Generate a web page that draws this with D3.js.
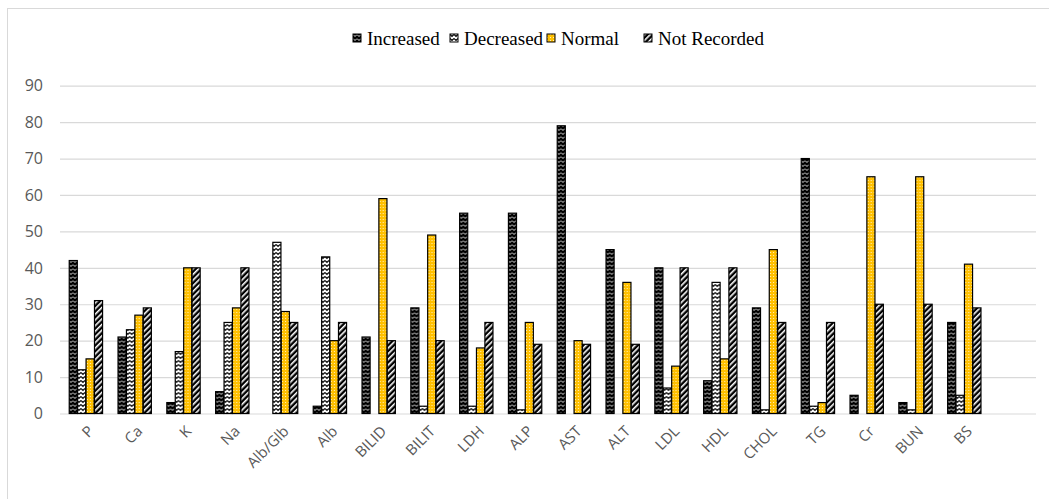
<!DOCTYPE html>
<html>
<head>
<meta charset="utf-8">
<script src="https://cdn.jsdelivr.net/npm/d3@7"></script>
<style>
  html, body { margin: 0; padding: 0; background: #fff; }
  svg { display: block; }
</style>
</head>
<body>
<svg id="chart" width="1049" height="499"></svg>
<script>
// Lab parameters and the number of cases per status
const categories = ["P", "Ca", "K", "Na", "Alb/Glb", "Alb", "BILID", "BILIT", "LDH", "ALP",
                    "AST", "ALT", "LDL", "HDL", "CHOL", "TG", "Cr", "BUN", "BS"];
const seriesNames = ["Increased", "Decreased", "Normal", "Not Recorded"];
const increased   = [42, 21,  3,  6,  0,  2, 21, 29, 55, 55, 79, 45, 40,  9, 29, 70,  5,  3, 25];
const decreased   = [12, 23, 17, 25, 47, 43,  0,  2,  2,  1,  0,  0,  7, 36,  1,  2,  0,  1,  5];
const normal      = [15, 27, 40, 29, 28, 20, 59, 49, 18, 25, 20, 36, 13, 15, 45,  3, 65, 65, 41];
const notRecorded = [31, 29, 40, 40, 25, 25, 20, 20, 25, 19, 19, 19, 40, 40, 25, 25, 30, 30, 29];
const yTicks = [0, 10, 20, 30, 40, 50, 60, 70, 80, 90];

const seriesValues = [increased, decreased, normal, notRecorded];
const rows = categories.map((c, i) => ({
  category: c,
  values: seriesNames.map((s, k) => ({ series: s, value: seriesValues[k][i] }))
}));

const svg = d3.select("#chart");
const sansFont = "'Open Sans', 'Liberation Sans', sans-serif";

// Fill patterns for the four statuses
const patternId = s => "pat-" + s.replace(/\s+/g, "-").toLowerCase();
const defs = svg.append("defs");

const pInc = defs.append("pattern").attr("id", patternId("Increased"))
  .attr("patternUnits", "userSpaceOnUse").attr("width", 4).attr("height", 4);
pInc.append("rect").attr("width", 4).attr("height", 4).attr("fill", "#000");
pInc.append("path").attr("d", "M0,0.5 L2,2.5 L4,0.5").attr("fill", "none")
  .attr("stroke", "#fff").attr("stroke-width", 0.9);

const pDec = defs.append("pattern").attr("id", patternId("Decreased"))
  .attr("patternUnits", "userSpaceOnUse").attr("width", 4).attr("height", 4);
pDec.append("rect").attr("width", 4).attr("height", 4).attr("fill", "#fff");
pDec.append("path").attr("d", "M0,0.5 L2,2.5 L4,0.5").attr("fill", "none")
  .attr("stroke", "#000").attr("stroke-width", 1.1);

const pNorm = defs.append("pattern").attr("id", patternId("Normal"))
  .attr("patternUnits", "userSpaceOnUse").attr("width", 3).attr("height", 3);
pNorm.append("rect").attr("width", 3).attr("height", 3).attr("fill", "#FFC000");
pNorm.append("rect").attr("width", 1).attr("height", 1).attr("fill", "#fff").attr("opacity", 0.75);

const pNR = defs.append("pattern").attr("id", patternId("Not Recorded"))
  .attr("patternUnits", "userSpaceOnUse").attr("width", 4).attr("height", 4)
  .attr("patternTransform", "rotate(45)");
pNR.append("rect").attr("width", 4).attr("height", 4).attr("fill", "#000");
pNR.append("rect").attr("width", 1.6).attr("height", 4).attr("fill", "#fff");

const fillFor = s => `url(#${patternId(s)})`;

// Chart frame
svg.append("line").attr("x1", 7.5).attr("x2", 7.5).attr("y1", 8).attr("y2", 499)
  .attr("stroke", "#d9d9d9");
svg.append("line").attr("x1", 7).attr("x2", 1049).attr("y1", 8.5).attr("y2", 8.5)
  .attr("stroke", "#d9d9d9");

// Scales
const plotLeft = 60, plotRight = 1036;
const x = d3.scaleBand().domain(categories).range([61.5, 988.7])
  .paddingInner(0.303).paddingOuter(0.1515);
const xSub = d3.scaleBand().domain(seriesNames).range([0, x.bandwidth()]).padding(0.04);
const y = d3.scaleLinear().domain([0, 90]).range([413.5, 85.7]);

// Gridlines
const yAxis = d3.axisLeft(y).tickValues(yTicks).tickSize(-(plotRight - plotLeft)).tickFormat("");
const gy = svg.append("g").attr("transform", `translate(${plotLeft},0)`).call(yAxis);
gy.select(".domain").remove();
gy.selectAll(".tick line").attr("stroke", "#d9d9d9").attr("stroke-width", 1.2);

// Value labels
svg.append("g").selectAll("text").data(yTicks).join("text")
  .attr("x", 43)
  .attr("y", d => y(d))
  .attr("dy", "0.36em")
  .attr("text-anchor", "end")
  .attr("fill", "#595959")
  .style("font-family", sansFont).style("font-size", "16px")
  .text(d => d);

// Category labels, rotated 45 degrees about their right end
svg.append("g").selectAll("text").data(categories).join("text")
  .attr("transform", d => `translate(${x(d) + x.bandwidth() / 2 + 5},${y(0) + 15}) rotate(-45)`)
  .attr("text-anchor", "end")
  .attr("dy", "0.35em")
  .attr("fill", "#595959")
  .style("font-family", sansFont).style("font-size", "15px")
  .text(d => d);

// Bars
const groups = svg.append("g").selectAll("g").data(rows).join("g")
  .attr("transform", d => `translate(${x(d.category)},0)`);
groups.selectAll("rect").data(d => d.values.filter(v => v.value > 0)).join("rect")
  .attr("x", d => xSub(d.series))
  .attr("width", xSub.bandwidth())
  .attr("y", d => y(d.value))
  .attr("height", d => y(0) - y(d.value))
  .attr("fill", d => fillFor(d.series))
  .attr("stroke", "#000")
  .attr("stroke-width", 1.2);

// Legend
const legendX = d3.scalePoint().domain(seriesNames).range([353, 644]);
const legend = svg.append("g").selectAll("g").data(seriesNames).join("g")
  .attr("transform", d => `translate(${legendX(d)},34)`);
legend.append("rect").attr("width", 8).attr("height", 8)
  .attr("fill", d => fillFor(d)).attr("stroke", "#000").attr("stroke-width", 1);
legend.append("text").attr("x", 14).attr("y", 11)
  .style("font-family", "'Liberation Serif', 'Times New Roman', serif")
  .style("font-size", "19px").attr("fill", "#000")
  .text(d => d);
</script>
</body>
</html>
